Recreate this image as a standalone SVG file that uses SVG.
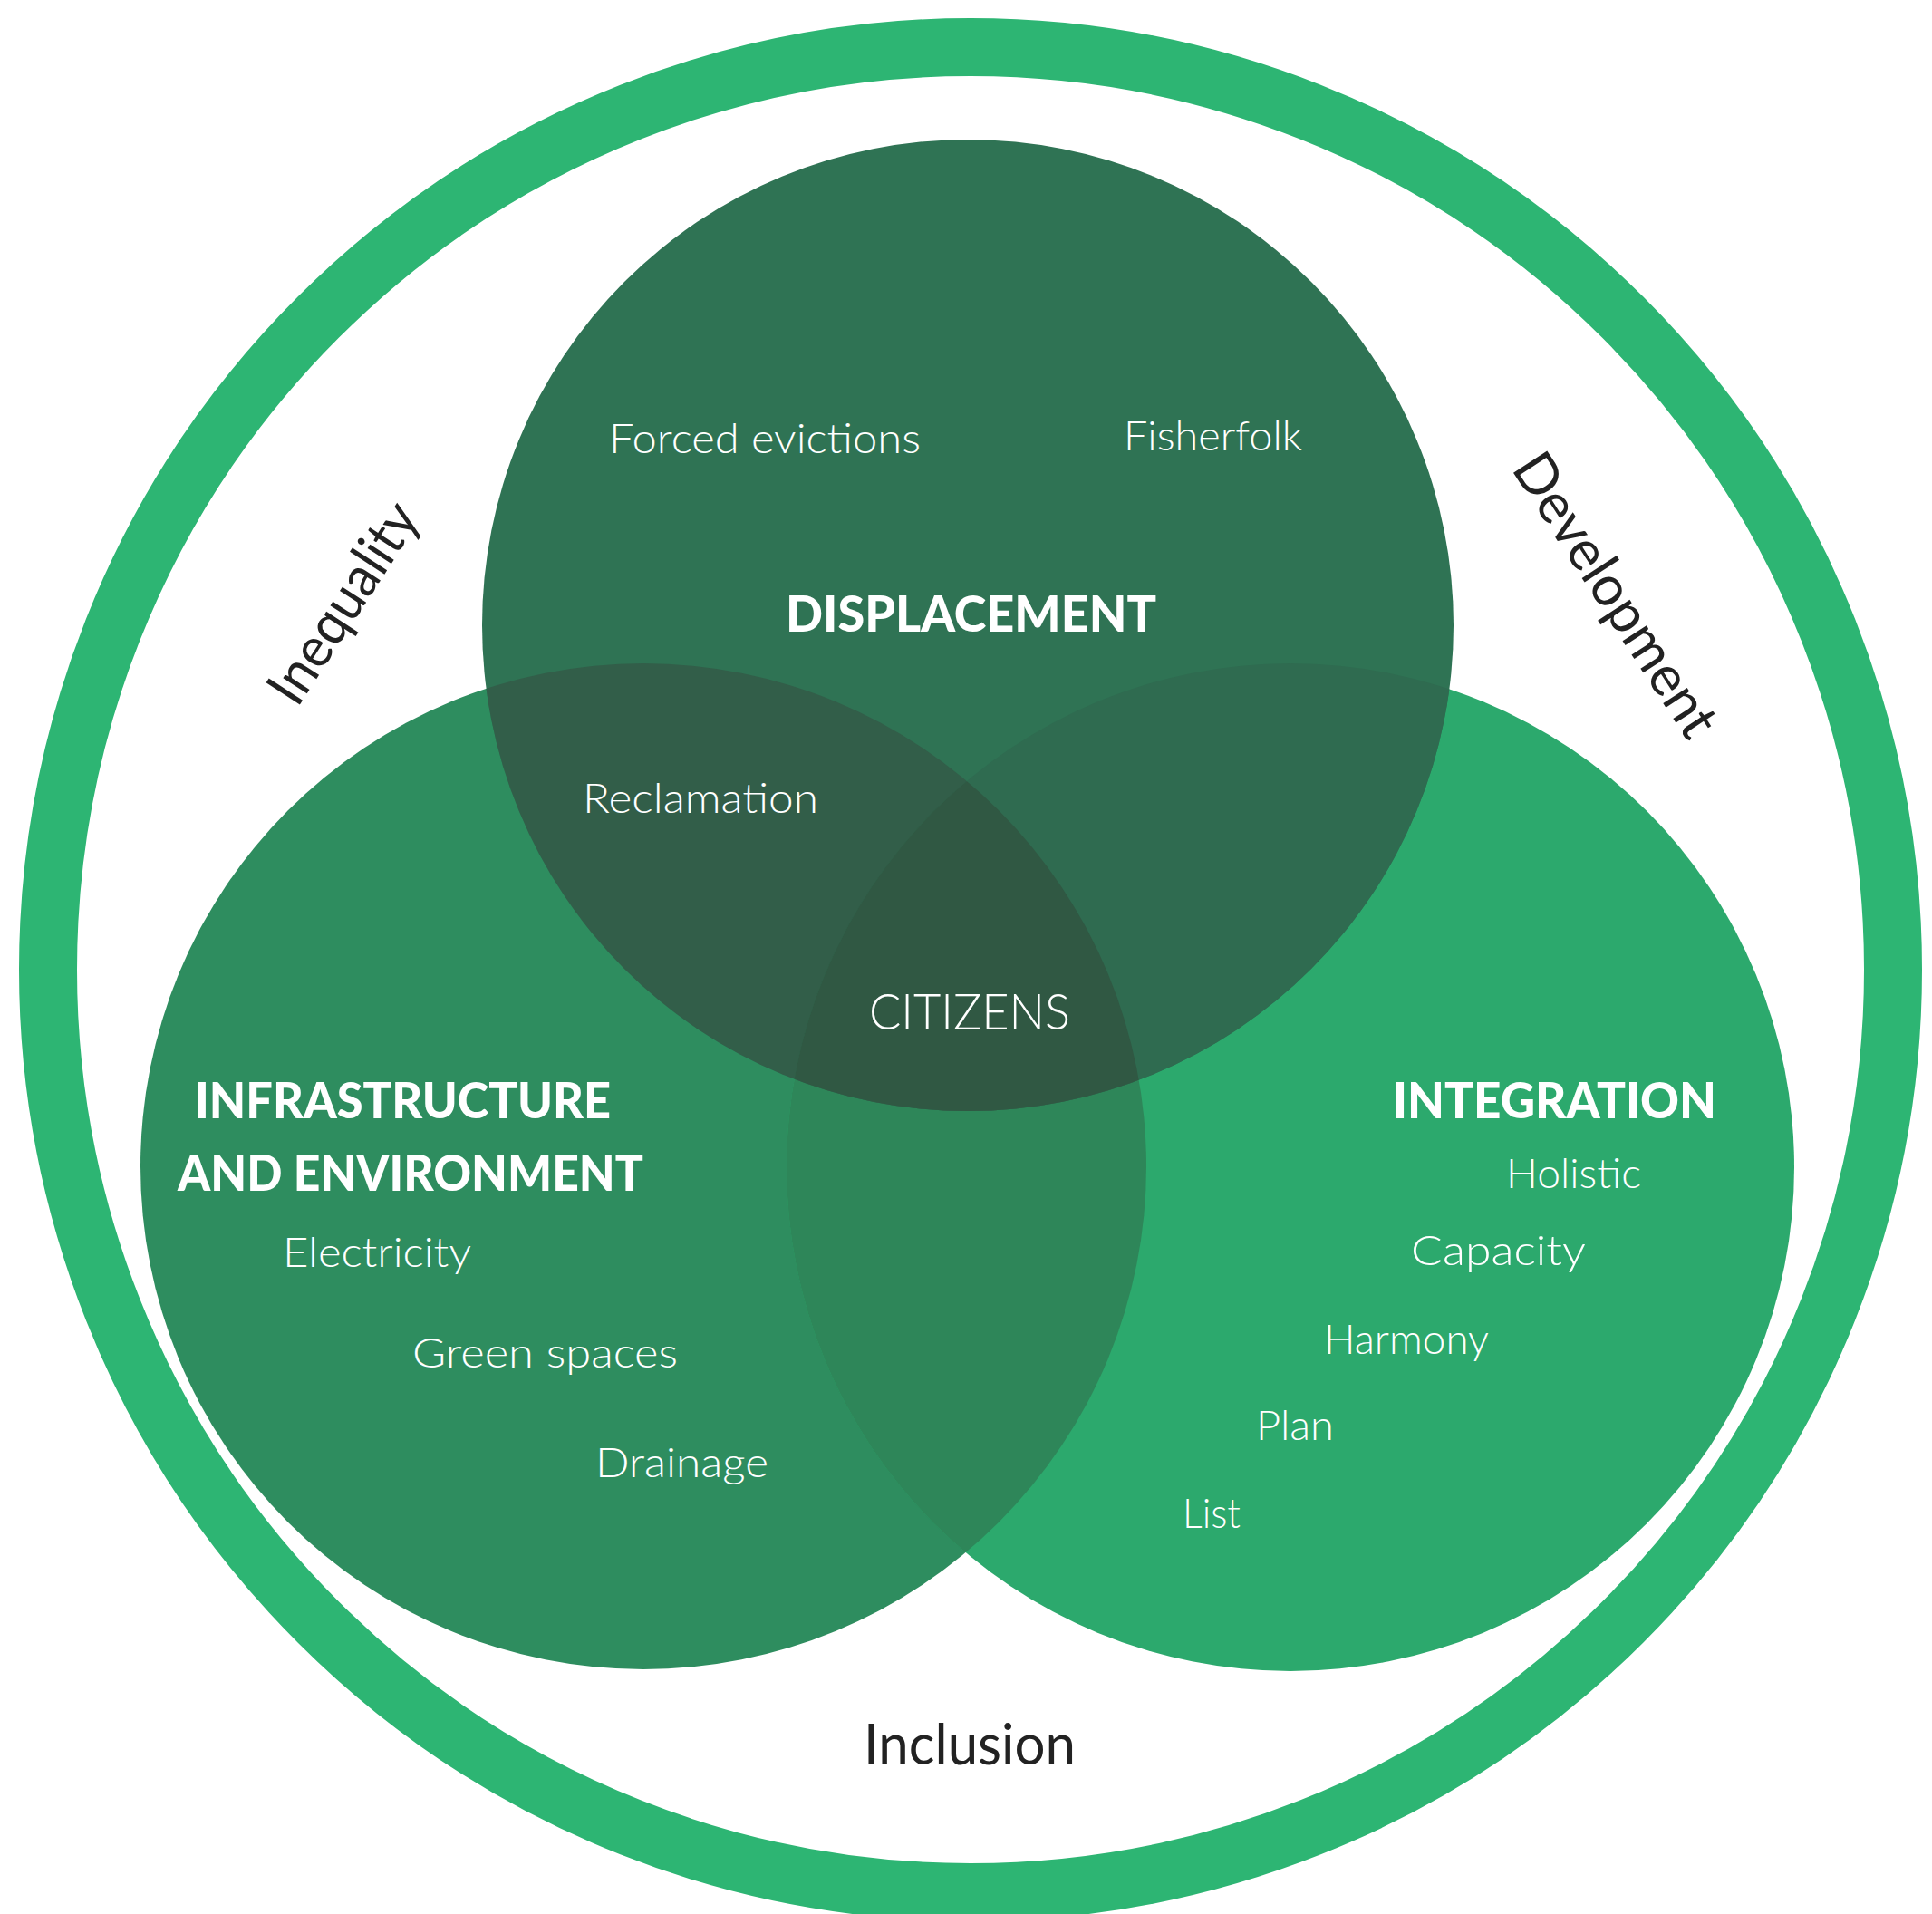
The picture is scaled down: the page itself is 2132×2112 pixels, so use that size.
<svg xmlns="http://www.w3.org/2000/svg" width="2132" height="2112" viewBox="0 0 2132 2112">
  <style>
    .lbl { font-family: "Lato", "Open Sans", "Liberation Sans", sans-serif; font-weight: 300; fill: #ffffff; font-size: 45px; }
    .big { font-family: "Lato", "Open Sans", "Liberation Sans", sans-serif; font-weight: 300; fill: #ffffff; font-size: 55px; }
    .ttl { font-family: "Lato", "Open Sans", "Liberation Sans", sans-serif; font-weight: 900; fill: #ffffff; font-size: 56px; }
    .out { font-family: "Lato", "Open Sans", "Liberation Sans", sans-serif; font-weight: 400; fill: #222222; font-size: 62px; }
  </style>
  <defs>
    <clipPath id="cT"><circle cx="1068" cy="690" r="536"/></clipPath>
    <clipPath id="cL"><circle cx="710" cy="1287" r="555"/></clipPath>
  </defs>
  <rect width="2132" height="2112" fill="#ffffff"/>
  <g id="ring">
    <circle cx="1071" cy="1070" r="1018" fill="none" stroke="#2DB573" stroke-width="64"/>
  </g>
  <g id="circle-left">
    <circle cx="710" cy="1287" r="555" fill="#2E8D5F"/>
  </g>
  <g id="circle-right">
    <circle cx="1424" cy="1288" r="556" fill="#2CA96D"/>
  </g>
  <g id="circle-top">
    <circle cx="1068" cy="690" r="536" fill="#2F7354"/>
  </g>
  <g id="overlaps">
    <circle cx="1424" cy="1288" r="556" fill="#2E8659" clip-path="url(#cL)"/>
    <circle cx="710" cy="1287" r="555" fill="#325E49" clip-path="url(#cT)"/>
    <circle cx="1424" cy="1288" r="556" fill="#2F6B50" clip-path="url(#cT)"/>
    <g clip-path="url(#cT)">
      <g clip-path="url(#cL)">
        <circle cx="1424" cy="1288" r="556" fill="#305843"/>
      </g>
    </g>
  </g>
  <g id="labels-displacement">
    <text class="lbl" x="672" y="500" textLength="344" lengthAdjust="spacingAndGlyphs">Forced evictions</text>
    <text class="lbl" x="1240" y="497" textLength="197" lengthAdjust="spacingAndGlyphs">Fisherfolk</text>
    <text class="ttl" x="867" y="697" textLength="409" lengthAdjust="spacingAndGlyphs">DISPLACEMENT</text>
    <text class="lbl" x="643" y="897" textLength="260" lengthAdjust="spacingAndGlyphs">Reclamation</text>
  </g>
  <g id="label-citizens">
    <text class="big" x="959" y="1136" textLength="222" lengthAdjust="spacingAndGlyphs">CITIZENS</text>
  </g>
  <g id="labels-infrastructure">
    <text class="ttl" x="215" y="1234" textLength="459" lengthAdjust="spacingAndGlyphs">INFRASTRUCTURE</text>
    <text class="ttl" x="196" y="1314" textLength="514" lengthAdjust="spacingAndGlyphs">AND ENVIRONMENT</text>
    <text class="lbl" x="312" y="1398" textLength="208" lengthAdjust="spacingAndGlyphs">Electricity</text>
    <text class="lbl" x="455" y="1509" textLength="293" lengthAdjust="spacingAndGlyphs">Green spaces</text>
    <text class="lbl" x="657" y="1630" textLength="191" lengthAdjust="spacingAndGlyphs">Drainage</text>
  </g>
  <g id="labels-integration">
    <text class="ttl" x="1537" y="1234" textLength="357" lengthAdjust="spacingAndGlyphs">INTEGRATION</text>
    <text class="lbl" x="1662" y="1311" textLength="149" lengthAdjust="spacingAndGlyphs">Holistic</text>
    <text class="lbl" x="1557" y="1396" textLength="193" lengthAdjust="spacingAndGlyphs">Capacity</text>
    <text class="lbl" x="1461" y="1494" textLength="182" lengthAdjust="spacingAndGlyphs">Harmony</text>
    <text class="lbl" x="1386" y="1589" textLength="86" lengthAdjust="spacingAndGlyphs">Plan</text>
    <text class="lbl" x="1305" y="1686" textLength="64" lengthAdjust="spacingAndGlyphs">List</text>
  </g>
  <g id="labels-outer">
    <text class="out" x="953" y="1947" textLength="234" lengthAdjust="spacingAndGlyphs">Inclusion</text>
    <text class="out" transform="translate(328,782) rotate(-57)" x="0" y="0" textLength="251" lengthAdjust="spacingAndGlyphs">Inequality</text>
    <text class="out" transform="translate(1667,517) rotate(57)" x="0" y="0" textLength="360" lengthAdjust="spacingAndGlyphs">Development</text>
  </g>
</svg>
